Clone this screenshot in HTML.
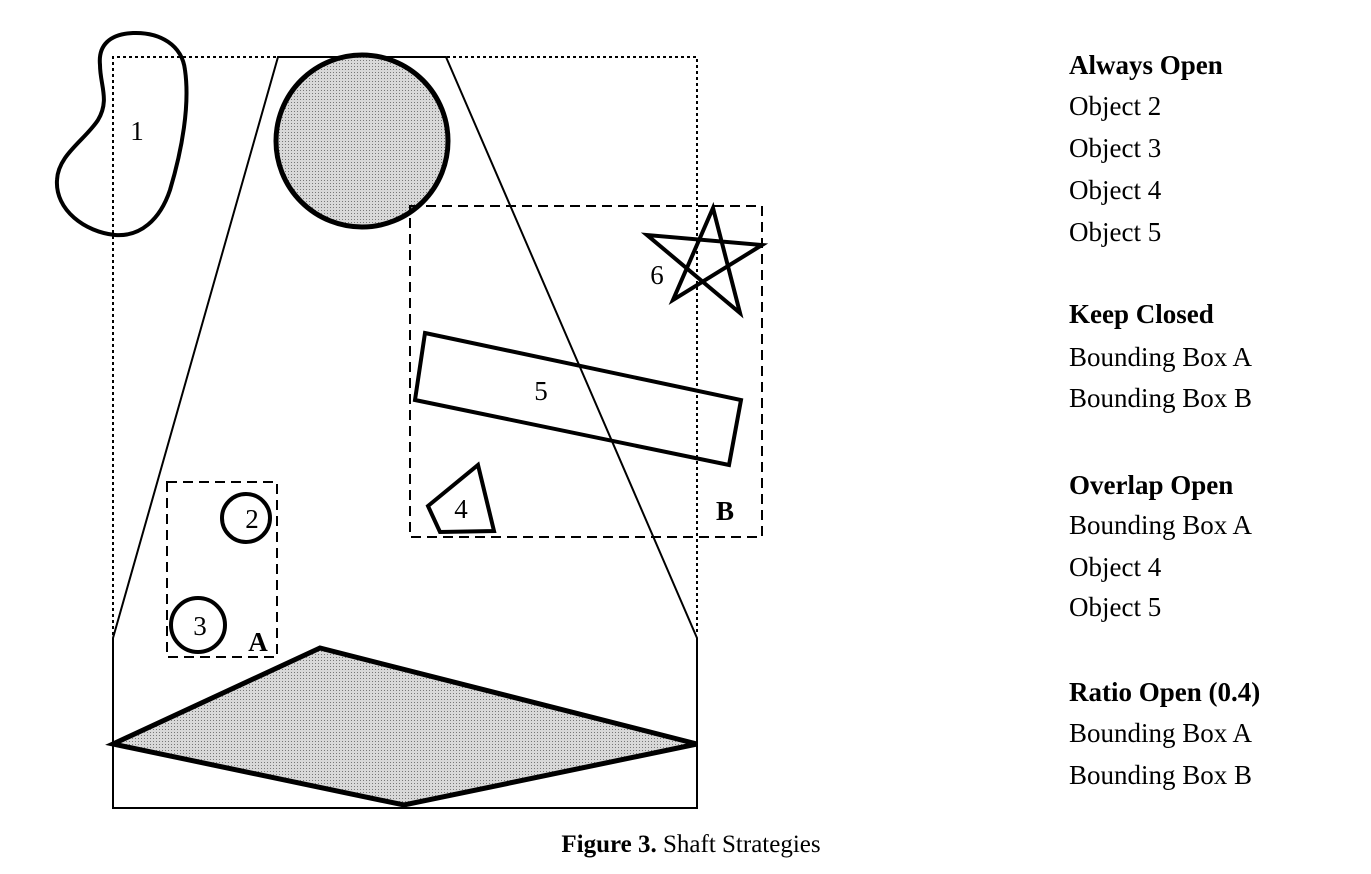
<!DOCTYPE html>
<html><head><meta charset="utf-8"><style>
body{margin:0;background:#fff;width:1371px;height:874px;overflow:hidden;position:relative;font-family:"Liberation Serif",serif}
.r{position:absolute;left:1069px;font-size:27px;color:#000;line-height:1}
.b{font-weight:bold}
</style></head><body>
<svg width="1371" height="874" style="position:absolute;left:0;top:0">
<defs><pattern id="dots" width="3" height="3" patternUnits="userSpaceOnUse"><rect width="3" height="3" fill="#d8d8d8"/><rect width="1" height="1" fill="#777"/></pattern></defs>
<path d="M113,635 L113,57 L697,57 L697,635" fill="none" stroke="#000" stroke-width="2" stroke-dasharray="3,3"/>
<path d="M278,57 L446,57 L697,638 L697,808 L113,808 L113,638 Z" fill="none" stroke="#000" stroke-width="2"/>
<circle cx="362" cy="141" r="86" fill="url(#dots)" stroke="#000" stroke-width="5"/>
<path d="M133,33 C160,32 182,45 185,70 C190,105 182,150 170,190 C160,220 140,237 115,235 C85,232 55,210 57,180 C58,155 85,140 98,120 C110,100 100,85 100,65 C98,45 110,34 133,33 Z" fill="none" stroke="#000" stroke-width="4"/>
<text x="137" y="140" font-size="27" font-family="Liberation Serif" text-anchor="middle">1</text>
<rect x="410" y="206" width="352" height="331" fill="none" stroke="#000" stroke-width="2" stroke-dasharray="10,6"/>
<text x="725" y="520" font-size="27" font-weight="bold" font-family="Liberation Serif" text-anchor="middle">B</text>
<path d="M713,208 L740,313 L647,235 L762,245 L673,300 Z" fill="none" stroke="#000" stroke-width="4"/>
<text x="657" y="284" font-size="27" font-family="Liberation Serif" text-anchor="middle">6</text>
<path d="M425,333 L741,400 L729,465 L415,400 Z" fill="none" stroke="#000" stroke-width="4"/>
<text x="541" y="400" font-size="27" font-family="Liberation Serif" text-anchor="middle">5</text>
<path d="M428,506 L478,465 L494,531 L440,532 Z" fill="none" stroke="#000" stroke-width="4"/>
<text x="461" y="518" font-size="27" font-family="Liberation Serif" text-anchor="middle">4</text>
<rect x="167" y="482" width="110" height="175" fill="none" stroke="#000" stroke-width="2" stroke-dasharray="10,6"/>
<text x="258" y="651" font-size="27" font-weight="bold" font-family="Liberation Serif" text-anchor="middle">A</text>
<circle cx="246" cy="518" r="24" fill="none" stroke="#000" stroke-width="4"/>
<text x="252" y="528" font-size="27" font-family="Liberation Serif" text-anchor="middle">2</text>
<circle cx="198" cy="625" r="27" fill="none" stroke="#000" stroke-width="4"/>
<text x="200" y="635" font-size="27" font-family="Liberation Serif" text-anchor="middle">3</text>
<path d="M113,744 L320,648 L697,744 L404,805 Z" fill="url(#dots)" stroke="#000" stroke-width="5"/>
<text x="691" y="852" font-size="25" font-family="Liberation Serif" text-anchor="middle"><tspan font-weight="bold">Figure 3.</tspan>  Shaft Strategies</text>
</svg>
<div class="r b" style="top:52px">Always Open</div>
<div class="r" style="top:93px">Object 2</div>
<div class="r" style="top:135px">Object 3</div>
<div class="r" style="top:177px">Object 4</div>
<div class="r" style="top:219px">Object 5</div>
<div class="r b" style="top:301px">Keep Closed</div>
<div class="r" style="top:344px">Bounding Box A</div>
<div class="r" style="top:385px">Bounding Box B</div>
<div class="r b" style="top:472px">Overlap Open</div>
<div class="r" style="top:512px">Bounding Box A</div>
<div class="r" style="top:554px">Object 4</div>
<div class="r" style="top:594px">Object 5</div>
<div class="r b" style="top:679px">Ratio Open (0.4)</div>
<div class="r" style="top:720px">Bounding Box A</div>
<div class="r" style="top:762px">Bounding Box B</div>
</body></html>
